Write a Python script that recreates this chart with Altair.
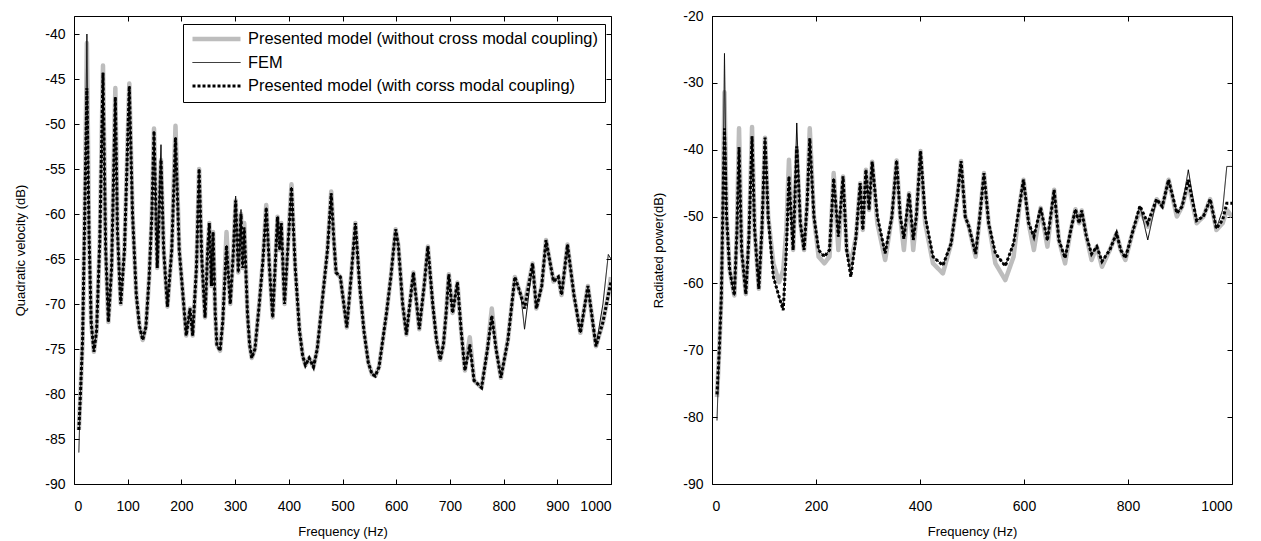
import altair as alt
import pandas as pd

# ---------------- Left panel: quadratic velocity (dB) ----------------
qv_freq = [9, 12, 16, 20, 24, 28, 32, 37, 42, 48, 54, 59, 64, 70, 77, 81, 87, 94, 103, 109,
           116, 122, 128, 134, 140, 145, 149, 155, 162, 167, 174, 182, 189, 196, 209, 216, 221, 228, 233, 238,
           244, 249, 252, 256, 259, 263, 266, 272, 277, 284, 291, 297, 301, 306, 311, 314, 317, 323, 327, 331,
           337, 345, 352, 358, 364, 370, 379, 383, 386, 392, 405, 412, 420, 426, 431, 438, 446, 453, 460, 466,
           472, 479, 484, 488, 496, 508, 516, 524, 532, 540, 548, 555, 561, 568, 575, 582, 590, 595, 599, 604,
           612, 619, 632, 643, 652, 659, 668, 675, 682, 688, 693, 698, 705, 714, 721, 728, 737, 745, 759, 770,
           778, 786, 795, 808, 821, 832, 839, 854, 861, 871, 879, 893, 902, 908, 919, 931, 943, 957, 972, 985,
           995, 1000]
qv_without = [-84, -80, -74, -60, -41, -62, -72, -75.3, -73, -63, -43.5, -64, -72, -66, -46, -62, -70, -64, -45.5, -60,
              -69, -72.5, -74, -72.5, -67, -60, -50.5, -66, -54, -64, -70.3, -64, -50.2, -64, -73.5, -70.5, -73.5, -66, -55, -65,
              -71.5, -64, -61, -68, -62, -71, -74.5, -75.2, -72, -62, -70, -64, -58.5, -66.5, -60, -66, -61, -71, -74.5, -76,
              -75, -70, -65, -59, -66, -71.5, -60.3, -64, -61, -70, -56.7, -66, -73, -75.8, -76.8, -76, -77, -75, -71, -67.5,
              -64, -57.5, -63, -66.5, -67, -72.6, -67, -61, -68, -73, -76.5, -77.8, -78, -77, -74, -71, -67, -64, -61.7, -63.5,
              -70, -73.4, -66.5, -72.8, -68, -63.6, -70, -74, -76.2, -74.5, -71, -66.7, -71, -67.6, -73, -77.4, -73.7, -78.5, -79.3, -75,
              -70.5, -75, -78.2, -74, -67, -69, -70, -65.5, -70.5, -68, -62.9, -67.5, -67, -69, -63.4, -69, -73.2, -68, -74.7, -72,
              -69, -67]
qv_fem = [-86.5, -80, -74, -60, -40, -62, -72, -75.3, -73, -63, -44.3, -64, -72, -66, -47, -62, -70, -64, -45.8, -60,
          -69, -72.5, -74, -72.5, -67, -60, -50.8, -66, -52.3, -64, -70.3, -64, -51.5, -64, -73.5, -70.5, -73.5, -66, -55, -65,
          -71.5, -64, -61, -68, -62, -71, -74.5, -75.2, -72, -63.5, -70, -64, -58, -66.5, -59.5, -66, -61.5, -71, -74.5, -76,
          -75, -70, -65, -59.3, -66, -71.5, -60.3, -64, -61, -70, -57, -66, -73, -75.8, -76.8, -76, -77, -75, -71, -67.5,
          -64, -57.7, -63, -66.5, -67, -72.6, -67, -61, -68, -73, -76.5, -77.8, -78, -77, -74, -71, -67, -64, -61.7, -63.5,
          -70, -73.4, -66.5, -72.8, -68, -63.6, -70, -74, -76.2, -74.5, -71, -66.7, -71, -67.6, -73, -77.4, -74.5, -78.5, -79.3, -75,
          -71.3, -75, -78.2, -74, -67, -69, -72.8, -65.5, -70.5, -68, -62.9, -67.5, -67, -69, -63.4, -69, -73.2, -68, -74.7, -70,
          -64.5, -65]
qv_with = [-84, -80, -74, -60, -46, -62, -72, -75.3, -73, -63, -44.3, -64, -72, -66, -47, -62, -70, -64, -45.8, -60,
           -69, -72.5, -74, -72.5, -67, -60, -50.8, -66, -54, -64, -70.3, -64, -51.5, -64, -73.5, -70.5, -73.5, -66, -55, -65,
           -71.5, -64, -61, -68, -62, -71, -74.5, -75.2, -72, -63.5, -70, -64, -58.5, -66.5, -60, -66, -61.5, -71, -74.5, -76,
           -75, -70, -65, -59.3, -66, -71.5, -60.3, -64, -61, -70, -57, -66, -73, -75.8, -76.8, -76, -77, -75, -71, -67.5,
           -64, -57.7, -63, -66.5, -67, -72.6, -67, -61, -68, -73, -76.5, -77.8, -78, -77, -74, -71, -67, -64, -61.7, -63.5,
           -70, -73.4, -66.5, -72.8, -68, -63.6, -70, -74, -76.2, -74.5, -71, -66.7, -71, -67.6, -73, -77.4, -74.5, -78.5, -79.3, -75,
           -71.3, -75, -78.2, -74, -67, -69, -70.5, -65.5, -70.5, -68, -62.9, -67.5, -67, -69, -63.4, -69, -73.2, -68, -74.7, -72,
           -69, -67.5]

# ---------------- Right panel: radiated power (dB) ----------------
rp_freq = [9.6, 14, 18, 21, 24, 28, 34, 43, 48, 52, 57, 65, 71, 77, 82, 90, 96, 102, 108, 118,
           129, 137, 143, 148, 156, 163, 170, 177, 183, 188, 196, 205, 216, 226, 234, 243, 252, 259, 267, 277,
           285, 290, 296, 302, 308, 318, 333, 346, 355, 362, 369, 379, 387, 393, 401, 410, 425, 444, 460, 472,
           479, 487, 494, 507, 515, 523, 532, 545, 564, 580, 592, 599, 609, 619, 632, 645, 658, 667, 679, 690,
           699, 706, 711, 720, 730, 740, 750, 765, 778, 786, 795, 810, 823, 838, 855, 866, 878, 894, 904, 916,
           932, 945, 958, 970, 982, 990, 1000]
rp_without = [-77, -70, -62, -48, -31.4, -50, -58, -61.8, -52, -36.8, -55, -61.6, -53, -36.6, -52, -60.8, -52, -38.2, -50, -57,
              -59.8, -58, -52, -41.5, -55, -40, -51, -55, -48, -36.8, -50, -56, -57, -56, -43.5, -55, -44, -55, -57, -53,
              -45, -52, -43, -49, -41.8, -51, -56.5, -50, -41.6, -50, -55, -46.5, -55, -50, -40.2, -51, -57, -58.5, -54, -47,
              -41.7, -50, -51.5, -56, -50, -43.5, -51, -57, -59.5, -56, -48, -44.5, -51, -55, -48.7, -54.5, -46, -53.5, -57, -52,
              -48.9, -51, -49.1, -53, -56.5, -54.5, -57.5, -55, -52.5, -55, -56.5, -52, -49, -51.5, -47.4, -48.5, -44.5, -50, -48.5, -45,
              -51, -50, -47.4, -52, -51, -49, -50]
rp_fem = [-80.5, -70, -62, -48, -25.6, -50, -58, -61.8, -52, -39.6, -55, -61.6, -53, -38, -52, -60.8, -52, -38.2, -50, -59,
          -62, -64, -55, -44, -55, -36, -51, -55, -48, -38.3, -50, -55, -56, -55, -44.3, -53, -44, -55, -59, -53,
          -45, -52, -43, -49, -41.8, -50, -55.5, -50, -41.6, -50, -53.3, -46.5, -53.5, -50, -40.2, -50, -56, -57.3, -54, -47,
          -41.7, -50, -51.5, -55.6, -50, -43.5, -51, -55.5, -57.4, -54, -48, -44.5, -51, -53, -48.7, -53.6, -46, -53.5, -56.2, -52,
          -48.9, -51, -49.1, -53, -55.6, -54.5, -56.7, -55, -52.5, -55, -56.2, -52, -48.4, -53.5, -47.4, -48.5, -44.5, -49.5, -48.5, -43,
          -50.6, -50, -47.4, -51.8, -49, -42.5, -42.5]
rp_with = [-76.6, -70, -62, -48, -36.8, -50, -58, -61.8, -52, -39.6, -55, -61.6, -53, -38, -52, -60.8, -52, -38.2, -50, -59,
           -62, -64, -55, -44, -55, -39.5, -51, -55, -48, -38.3, -50, -55, -56, -55, -44.3, -53, -44, -55, -59, -53,
           -45, -52, -43, -49, -41.8, -50, -55.5, -50, -41.6, -50, -53.3, -46.5, -53.5, -50, -40.2, -50, -56, -57.3, -54, -47,
           -41.7, -50, -51.5, -55.6, -50, -43.5, -51, -55.5, -57.4, -54, -48, -44.5, -51, -53, -48.7, -53.6, -46, -53.5, -56.2, -52,
           -48.9, -51, -49.1, -53, -55.6, -54.5, -56.7, -55, -52.5, -55, -56.2, -52, -48.4, -51, -47.4, -48.5, -44.5, -49.5, -48.5, -44.5,
           -50.6, -50, -47.4, -51.8, -50.5, -48, -48]

series_names = [
    "Presented model (without cross modal coupling)",
    "FEM",
    "Presented model (with corss modal coupling)",
]
x_ticks_left = [0, 100, 200, 300, 400, 500, 600, 700, 800, 900, 1000]
x_ticks_right = [0, 200, 400, 600, 800, 1000]
y_ticks_left = [-90, -85, -80, -75, -70, -65, -60, -55, -50, -45, -40]
y_ticks_right = [-90, -80, -70, -60, -50, -40, -30, -20]

FONT = "Liberation Sans"


def long_df(freq, a, b, c):
    rows = []
    for name, vals in zip(series_names, [a, b, c]):
        for f, v in zip(freq, vals):
            rows.append({"f": f, "v": v, "series": name})
    return pd.DataFrame(rows)


def panel(df, ytitle, ydom, yticks, xticks, width, height, legx):
    leg = alt.Legend(
        title=None, orient="none", legendX=legx, legendY=8,
        symbolType="stroke", symbolSize=2304, clipHeight=16, rowPadding=6.5,
        labelFont=FONT, labelFontSize=16.4, labelColor="black", labelOffset=5,
        strokeColor="black", fillColor="white", padding=7, cornerRadius=0,
        labelLimit=600,
    )
    enc_color = alt.Color("series:N", scale=alt.Scale(domain=series_names,
                          range=["#bdbdbd", "#000000", "#000000"]), legend=leg)
    enc_dash = alt.StrokeDash("series:N", scale=alt.Scale(type="ordinal", domain=series_names,
                              range=[[1, 0], [1, 0], [3, 2]]), legend=leg)
    enc_width = alt.StrokeWidth("series:N", scale=alt.Scale(type="ordinal", domain=series_names,
                                range=[4.5, 1, 3]), legend=leg)
    xs = alt.Scale(domain=[0, 1000], nice=False, zero=False)
    ys = alt.Scale(domain=ydom, nice=False, zero=False)

    common_axis = dict(offset=-5, tickSize=5, domain=False, grid=False, tickColor="black",
                       tickWidth=1)
    x_bottom = alt.Axis(orient="bottom", values=xticks, labelPadding=15, title="Frequency (Hz)",
                        titleFont=FONT, titleFontSize=13, titleFontWeight="normal", titleColor="black",
                        titlePadding=12, labelFont=FONT, labelFontSize=14, labelColor="black",
                        labelExpr="'' + datum.value", **common_axis)
    y_left = alt.Axis(orient="left", values=yticks, labelPadding=9, title=ytitle,
                      titleFont=FONT, titleFontSize=13, titleFontWeight="normal", titleColor="black",
                      titlePadding=17, labelFont=FONT, labelFontSize=14, labelColor="black",
                      labelExpr="'' + datum.value", **common_axis)
    x_top = alt.Axis(orient="top", values=xticks, labels=False, title=None, **common_axis)
    y_right = alt.Axis(orient="right", values=yticks, labels=False, title=None, **common_axis)

    base = alt.Chart(df)
    l1 = base.transform_filter(alt.datum.series == series_names[0]).mark_line(clip=True, strokeCap="butt", strokeJoin="round").encode(
        x=alt.X("f:Q", scale=xs, axis=x_bottom),
        y=alt.Y("v:Q", scale=ys, axis=y_left),
        color=enc_color, strokeDash=enc_dash, strokeWidth=enc_width,
    )
    l2 = base.transform_filter(alt.datum.series == series_names[1]).mark_line(clip=True, strokeJoin="miter").encode(
        x=alt.X("f:Q", scale=xs, axis=x_top),
        y=alt.Y("v:Q", scale=ys, axis=y_right),
        color=enc_color, strokeDash=enc_dash, strokeWidth=enc_width,
    )
    l3 = base.transform_filter(alt.datum.series == series_names[2]).mark_line(clip=True, strokeCap="butt").encode(
        x=alt.X("f:Q", scale=xs, axis=None),
        y=alt.Y("v:Q", scale=ys, axis=None),
        color=enc_color, strokeDash=enc_dash, strokeWidth=enc_width,
    )
    return alt.layer(l1, l2, l3).properties(width=width, height=height)


left = panel(long_df(qv_freq, qv_without, qv_fem, qv_with), "Quadratic velocity (dB)",
             [-90, -38], y_ticks_left, x_ticks_left, 537, 468, 109)
right = panel(long_df(rp_freq, rp_without, rp_fem, rp_with), "Radiated power(dB)",
              [-90, -20], y_ticks_right, x_ticks_right, 520, 468, 90)

chart = alt.hconcat(left, right, spacing=40).properties(
    padding={"left": 14, "top": 8, "right": 2, "bottom": 0},
    background="white",
).configure_view(stroke="black", strokeWidth=1).configure_concat(spacing=40)

chart.save("out.html", embed_options={"renderer": "svg", "actions": False})
